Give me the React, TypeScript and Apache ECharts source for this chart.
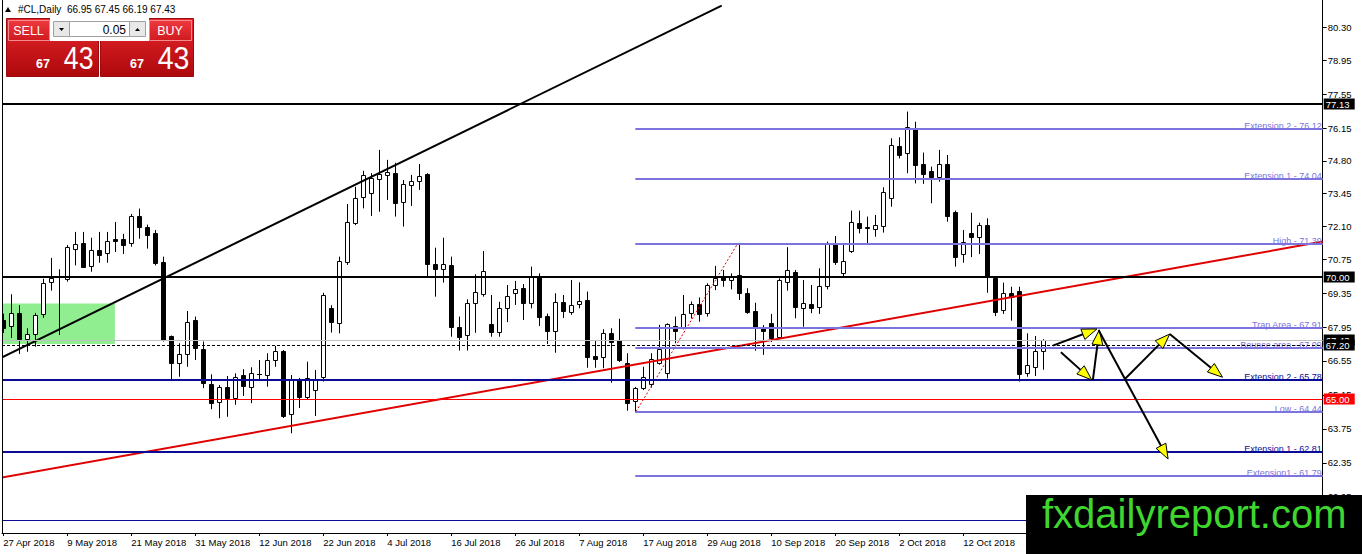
import React, { useEffect, useRef } from "react";
import * as echarts from "echarts";

// daily bars: open, high, low, close (first bar = 27 Apr 2018)
const ohlc: [number, number, number, number][] = [
  [68.25, 68.5, 67.7, 67.9], [68.0, 69.3, 67.5, 68.54], [68.52, 68.85, 66.84, 67.44], [67.44, 67.9, 66.93, 67.65],
  [67.65, 68.53, 67.14, 68.43], [68.47, 69.94, 68.33, 69.75], [69.81, 70.8, 69.45, 69.97], [70.05, 70.33, 67.62, 70.02],
  [69.94, 71.33, 69.82, 71.24], [71.18, 71.87, 70.49, 71.37], [71.43, 71.87, 70.38, 70.44], [70.47, 71.63, 70.23, 71.12],
  [71.12, 71.87, 70.6, 70.93], [70.99, 71.87, 70.6, 71.48], [71.57, 72.28, 71.04, 71.51], [71.57, 71.79, 70.96, 71.34],
  [71.43, 72.61, 71.26, 72.53], [72.53, 72.83, 71.59, 72.06], [72.06, 72.17, 71.18, 71.76], [71.84, 71.95, 70.49, 70.6],
  [70.63, 70.85, 67.35, 67.42], [67.58, 67.6, 65.77, 66.46], [66.46, 67.28, 65.9, 66.83], [66.83, 68.61, 66.31, 68.17],
  [68.24, 68.38, 66.59, 67.07], [67.03, 67.35, 65.43, 65.66], [65.59, 66.0, 64.56, 64.83], [64.87, 65.56, 64.19, 65.46],
  [65.46, 65.93, 64.25, 65.01], [65.01, 66.04, 64.74, 65.9], [65.96, 66.21, 65.11, 65.53], [65.49, 66.29, 64.81, 66.04],
  [66.0, 66.59, 65.77, 66.02], [65.96, 66.87, 65.49, 66.59], [66.59, 67.17, 66.31, 66.97], [66.96, 67.0, 64.2, 64.28],
  [64.35, 65.97, 63.57, 65.77], [65.82, 65.85, 64.61, 65.05], [65.08, 66.52, 64.97, 65.86], [65.35, 66.18, 64.28, 65.77],
  [65.88, 69.36, 65.7, 69.27], [68.72, 68.85, 67.72, 68.17], [68.13, 70.85, 67.69, 70.67], [70.64, 73.02, 70.51, 72.28],
  [72.23, 73.73, 72.15, 73.26], [73.3, 74.39, 72.84, 74.2], [73.46, 74.29, 72.53, 74.08], [74.04, 75.25, 72.7, 74.26],
  [74.2, 74.84, 73.19, 74.35], [74.29, 74.72, 72.5, 73.07], [73.12, 74.01, 72.09, 73.85], [73.82, 74.22, 72.94, 73.96],
  [73.98, 74.67, 73.6, 74.17], [74.25, 74.29, 70.02, 70.55], [70.55, 71.22, 69.2, 70.33], [70.35, 71.63, 69.78, 70.54],
  [70.49, 70.85, 67.55, 67.96], [67.96, 68.38, 66.98, 67.55], [67.61, 69.09, 66.98, 68.93], [68.95, 70.12, 67.71, 69.41],
  [69.31, 71.08, 69.2, 70.27], [68.08, 69.27, 67.55, 67.76], [67.76, 68.99, 67.55, 68.72], [68.72, 69.68, 68.15, 69.23],
  [69.34, 69.85, 68.86, 69.51], [69.55, 69.72, 68.24, 68.95], [68.95, 70.44, 68.72, 70.02], [70.05, 70.16, 67.99, 68.35],
  [68.41, 68.5, 67.25, 67.8], [67.8, 69.34, 66.89, 68.97], [68.98, 69.27, 68.32, 68.62], [68.58, 69.89, 68.45, 68.85],
  [68.89, 69.79, 68.72, 69.03], [69.06, 69.41, 66.27, 66.73], [66.76, 67.37, 66.27, 66.63], [66.7, 67.86, 66.25, 67.72],
  [67.69, 67.9, 65.65, 67.35], [67.42, 68.29, 66.51, 66.59], [66.48, 66.87, 64.5, 64.83], [64.91, 65.48, 64.44, 65.42],
  [65.42, 66.31, 65.35, 65.88], [65.6, 66.87, 65.45, 66.62], [66.48, 68.04, 66.4, 67.03], [66.07, 68.1, 65.83, 68.08],
  [68.0, 68.38, 67.28, 67.8], [67.94, 69.27, 67.85, 68.49], [68.54, 69.0, 68.3, 68.9], [68.9, 69.17, 68.17, 68.49],
  [68.52, 69.75, 68.38, 69.68], [69.68, 70.47, 69.47, 69.96], [70.02, 70.3, 69.61, 69.89], [69.89, 70.16, 69.5, 70.05],
  [70.09, 71.39, 69.06, 69.34], [69.37, 69.55, 68.49, 68.58], [68.61, 68.95, 66.97, 67.9], [67.9, 68.03, 66.8, 67.8],
  [68.13, 68.49, 67.33, 67.49], [67.55, 69.96, 67.45, 69.89], [69.82, 71.24, 69.45, 70.3], [70.23, 70.3, 68.31, 68.76],
  [68.72, 69.89, 67.96, 68.93], [68.89, 69.68, 68.52, 68.72], [68.76, 70.37, 68.49, 69.65], [69.64, 71.47, 69.5, 71.4],
  [71.37, 71.7, 70.51, 70.64], [70.19, 71.37, 70.0, 70.68], [71.1, 72.75, 71.0, 72.27], [72.23, 72.75, 71.81, 72.02],
  [72.04, 72.5, 71.4, 72.06], [71.98, 72.57, 71.67, 72.16], [72.13, 73.71, 71.84, 73.5], [73.26, 75.73, 72.91, 75.45],
  [75.41, 75.77, 74.9, 75.04], [75.11, 76.83, 74.29, 76.18], [76.1, 76.41, 73.87, 74.63], [74.66, 75.14, 73.85, 74.26],
  [74.38, 74.56, 73.05, 74.15], [74.15, 75.25, 73.94, 74.67], [74.67, 75.04, 72.29, 72.53], [72.7, 72.75, 70.44, 70.85],
  [70.95, 71.95, 70.6, 71.47], [71.84, 72.66, 70.83, 71.67], [71.65, 72.25, 70.96, 72.15], [72.15, 72.43, 69.36, 70.03],
  [69.96, 70.03, 68.4, 68.58], [68.65, 69.78, 68.49, 69.34], [69.37, 69.61, 68.21, 69.2], [69.45, 69.61, 65.7, 66.01],
  [66.07, 67.69, 65.9, 66.39], [66.32, 67.58, 65.93, 66.98], [66.95, 67.45, 66.19, 67.43],
];

const xLabelBars = [0, 8, 16, 24, 32, 40, 48, 56, 64, 72, 80, 88, 96, 104, 112, 120];
const xLabels = [
  "27 Apr 2018", "9 May 2018", "21 May 2018", "31 May 2018", "12 Jun 2018", "22 Jun 2018", "4 Jul 2018", "16 Jul 2018",
  "26 Jul 2018", "7 Aug 2018", "17 Aug 2018", "29 Aug 2018", "10 Sep 2018", "20 Sep 2018", "2 Oct 2018", "12 Oct 2018",
];
const yTicks = [80.3, 78.95, 77.55, 76.15, 74.8, 73.45, 72.1, 70.75, 69.35, 67.95, 66.55, 65.15, 63.75, 62.35, 60.95];

const fiboStartBar = 79;
const fiboLevels = [76.12, 74.04, 71.39, 67.91, 67.09, 64.44, 61.79];
const fiboNames = ["Extension 2", "Extension 1", "High", "Trap Area", "Bounce area", "Low", "Extension1"];
const targetLevels = [65.78, 62.81];
const targetNames = ["Extension 2", "Extension 1"];
const keyLevels = [77.13, 70.0];
const redLevel = 65.0;
const lowerLevel = 60.0;
const dashedLevel = 67.2;

const zoneBars = [-0.5, 13.95];
const zonePrices = [67.25, 68.92];
// trend lines: [bar1, price1, bar2, price2]
const trendLines: [number, number, number, number][] = [
  [-0.41, 66.66, 89.8, 81.2],
  [-0.41, 61.73, 164.93, 71.47],
  [79.1, 64.47, 91.8, 71.39],
];
// projected path arrows: [bar1, price1, bar2, price2]
const arrows: [number, number, number, number][] = [
  [131.2, 67.18, 136.7, 67.87],
  [132.2, 66.91, 136.05, 65.77],
  [136.2, 65.77, 137.0, 67.83],
  [136.9, 67.83, 145.6, 62.51],
  [140.2, 65.81, 145.8, 67.66],
  [145.8, 67.66, 152.4, 65.88],
];
const symbolName = "#CL,Daily";
const lotSize = "0.05";

const X_MIN = -0.1625;
const X_MAX = 164.925;
const Y_MIN = 59.459;
const Y_MAX = 81.429;

const FONT = '"Liberation Sans", Arial, sans-serif';
const NAVY = "#0b0b96";
const PURPLE = "#7c74dc";

const last = ohlc[ohlc.length - 1];
const bidPrice = last[3];

type Level = { start: number; value: number; kind: string; label?: string };
const levelItems: Level[] = [
  { start: X_MIN, value: lowerLevel, kind: "lower" },
  ...targetLevels.map((v, i) => ({ start: X_MIN, value: v, kind: "target", label: `${targetNames[i]} - ${v.toFixed(2)}` })),
  ...fiboLevels.map((v, i) => ({ start: fiboStartBar, value: v, kind: "fibo", label: `${fiboNames[i]} - ${v.toFixed(2)}` })),
  { start: X_MIN, value: redLevel, kind: "red" },
  ...keyLevels.map((v) => ({ start: X_MIN, value: v, kind: "key" })),
  { start: X_MIN, value: bidPrice, kind: "bid" },
  { start: X_MIN, value: dashedLevel, kind: "dashed" },
];
const levelStyle: Record<string, any> = {
  key: { stroke: "#000", width: 2, box: "#000" },
  red: { stroke: "#ff0000", width: 1, box: "#ff0000" },
  lower: { stroke: NAVY, width: 1 },
  target: { stroke: NAVY, width: 2, text: NAVY },
  fibo: { stroke: PURPLE, width: 2, text: PURPLE },
  bid: { stroke: "#c0c0c0", width: 1, box: "#000" },
  dashed: { stroke: "#000", width: 1, dash: [3, 2], box: "#000" },
};
const trendStyles = [
  { stroke: "#000", width: 2 },
  { stroke: "#e00000", width: 2 },
  { stroke: "#e00000", width: 1, dash: [2, 2] },
];

function txt(x: number, y: number, text: string, fill: string, font: string, align: string, valign: string, extra: any = {}) {
  return {
    type: "text",
    x,
    y,
    ...extra,
    style: { text, fill, font, align, verticalAlign: valign, textAlign: align, textVerticalAlign: valign },
  };
}

function panelGraphics(): any[] {
  const red = new echarts.graphic.LinearGradient(0, 0, 0, 1, [
    { offset: 0, color: "#e8272d" },
    { offset: 1, color: "#ad080c" },
  ]);
  const hdr = new echarts.graphic.LinearGradient(0, 0, 0, 1, [
    { offset: 0, color: "#ee3a3f" },
    { offset: 1, color: "#cf1a20" },
  ]);
  const big = Math.floor(bidPrice).toString();
  const small = Math.round((bidPrice - Math.floor(bidPrice)) * 100).toString().padStart(2, "0");
  const g: any[] = [
    { type: "polygon", shape: { points: [[5, 12], [11, 12], [8, 7]] }, style: { fill: "#000" } },
    txt(18, 9.5, `${symbolName}  ${last[0].toFixed(2)} ${last[1].toFixed(2)} ${last[2].toFixed(2)} ${last[3].toFixed(2)}`, "#000", `10px ${FONT}`, "left", "middle"),
    { type: "rect", shape: { x: 6.5, y: 18.5, width: 92, height: 58 }, style: { fill: red, stroke: "#9a0a0e", lineWidth: 1 } },
    { type: "rect", shape: { x: 100.5, y: 18.5, width: 93, height: 58 }, style: { fill: red, stroke: "#9a0a0e", lineWidth: 1 } },
    { type: "rect", shape: { x: 50, y: 18, width: 99, height: 23 }, style: { fill: "#fff" } },
    { type: "rect", shape: { x: 8.5, y: 20.5, width: 41, height: 20 }, style: { fill: hdr, stroke: "#f38a8d", lineWidth: 1 } },
    { type: "rect", shape: { x: 149.5, y: 20.5, width: 42, height: 20 }, style: { fill: hdr, stroke: "#f38a8d", lineWidth: 1 } },
    { type: "rect", shape: { x: 53.5, y: 21.5, width: 16, height: 15 }, style: { fill: "#e8e8e8", stroke: "#a0a0a0", lineWidth: 1 } },
    { type: "rect", shape: { x: 69.5, y: 21.5, width: 60, height: 15 }, style: { fill: "#fff", stroke: "#a0a0a0", lineWidth: 1 } },
    { type: "rect", shape: { x: 129.5, y: 21.5, width: 16, height: 15 }, style: { fill: "#e8e8e8", stroke: "#a0a0a0", lineWidth: 1 } },
    { type: "polygon", shape: { points: [[59, 28], [64, 28], [61.5, 31]] }, style: { fill: "#000" } },
    { type: "polygon", shape: { points: [[135, 31], [140, 31], [137.5, 28]] }, style: { fill: "#000" } },
    txt(126, 29.5, lotSize, "#000", `12px ${FONT}`, "right", "middle"),
    txt(28.5, 30.5, "SELL", "#fff", `12.5px ${FONT}`, "center", "middle"),
    txt(170, 30.5, "BUY", "#fff", `12.5px ${FONT}`, "center", "middle"),
    txt(36, 70, big, "#fff", `bold 12.5px ${FONT}`, "left", "bottom"),
    txt(56, 73.5, small, "#fff", `31px ${FONT}`, "left", "bottom", { scaleX: 0.86, originX: 56, originY: 73 }),
    txt(130, 70, big, "#fff", `bold 12.5px ${FONT}`, "left", "bottom"),
    txt(146, 73.5, small, "#fff", `31px ${FONT}`, "left", "bottom", { scaleX: 0.92, originX: 146, originY: 73 }),
    // chart left frame
    { type: "line", shape: { x1: 2.5, y1: 0, x2: 2.5, y2: 533 }, style: { stroke: "#000", lineWidth: 1 }, z: 50 },
    // watermark
    { type: "rect", shape: { x: 1026, y: 495, width: 336, height: 59 }, style: { fill: "#000" }, z: 100 },
    txt(1042, 534, "fxdailyreport.com", "#3fd630", `40px ${FONT}`, "left", "bottom", { z: 101 }),
  ];
  return g.map((e) => ({ z: 60, ...e }));
}

export default function App() {
  const ref = useRef<HTMLDivElement>(null);
  useEffect(() => {
    if (!ref.current) return;
    const chart = echarts.init(ref.current, undefined, { renderer: "svg" });
    const candleData = ohlc.map((d, i) => [i, d[0], d[1], d[2], d[3]]);

    const option: any = {
      animation: false,
      backgroundColor: "#fff",
      grid: { left: 2, top: 0, width: 1320.7, height: 533, containLabel: false },
      xAxis: {
        type: "value",
        min: X_MIN,
        max: X_MAX,
        position: "bottom",
        splitLine: { show: false },
        axisLine: { show: true, onZero: false, lineStyle: { color: "#000", width: 1 } },
        axisTick: { show: true, customValues: xLabelBars, length: 3, lineStyle: { color: "#000" } },
        axisLabel: {
          customValues: xLabelBars,
          formatter: (v: number) => xLabels[xLabelBars.indexOf(Math.round(v))] ?? "",
          align: "left",
          margin: 4,
          color: "#000",
          fontSize: 9.5,
          fontFamily: FONT,
        },
      },
      yAxis: {
        type: "value",
        min: Y_MIN,
        max: Y_MAX,
        position: "right",
        splitLine: { show: false },
        axisLine: { show: true, onZero: false, lineStyle: { color: "#000", width: 1 } },
        axisTick: { show: true, customValues: yTicks, length: 4, lineStyle: { color: "#000" } },
        axisLabel: {
          customValues: yTicks,
          formatter: (v: number) => v.toFixed(2),
          margin: 5,
          color: "#000",
          fontSize: 9.5,
          fontFamily: FONT,
        },
      },
      graphic: { elements: panelGraphics() },
      series: [
        {
          type: "custom",
          name: "zone",
          z: 1,
          clip: true,
          encode: { x: [0, 2], y: [1, 3] },
          data: [[zoneBars[0], zonePrices[0], zoneBars[1], zonePrices[1]]],
          renderItem: (params: any, api: any) => {
            const a = api.coord([api.value(0), api.value(1)]);
            const b = api.coord([api.value(2), api.value(3)]);
            const cs = params.coordSys;
            const x0 = Math.max(cs.x, Math.min(a[0], b[0]));
            return {
              type: "rect",
              shape: { x: x0, y: Math.min(a[1], b[1]), width: Math.max(a[0], b[0]) - x0, height: Math.abs(a[1] - b[1]) },
              style: { fill: "#90ee90" },
            };
          },
        },
        {
          type: "custom",
          name: "candles",
          z: 5,
          clip: true,
          encode: { x: 0, y: [1, 2, 3, 4] },
          data: candleData,
          renderItem: (params: any, api: any) => {
            const k = api.value(0);
            const o = api.value(1), h = api.value(2), l = api.value(3), c = api.value(4);
            const po = api.coord([k, o]);
            const pc = api.coord([k, c]);
            const ph = api.coord([k, h]);
            const pl = api.coord([k, l]);
            const xc = Math.round(po[0]) + 0.5;
            const top = Math.round(Math.min(po[1], pc[1])) + 0.5;
            const bot = Math.round(Math.max(po[1], pc[1])) + 0.5;
            const bull = c >= o;
            const children: any[] = [
              { type: "line", shape: { x1: xc, y1: ph[1], x2: xc, y2: pl[1] }, style: { stroke: "#000", lineWidth: 1 } },
            ];
            if (bot - top < 1) {
              children.push({ type: "line", shape: { x1: xc - 2.5, y1: top, x2: xc + 2.5, y2: top }, style: { stroke: "#000", lineWidth: 1 } });
            } else {
              children.push({
                type: "rect",
                shape: { x: xc - 2, y: top, width: 4, height: bot - top },
                style: { fill: bull ? "#fff" : "#000", stroke: "#000", lineWidth: 1 },
              });
            }
            return { type: "group", children };
          },
        },
        {
          type: "custom",
          name: "trendlines",
          z: 6,
          clip: true,
          encode: { x: [0, 2], y: [1, 3] },
          data: trendLines,
          renderItem: (params: any, api: any) => {
            const s = trendStyles[params.dataIndex];
            const a = api.coord([api.value(0), api.value(1)]);
            const b = api.coord([api.value(2), api.value(3)]);
            return {
              type: "line",
              shape: { x1: a[0], y1: a[1], x2: b[0], y2: b[1] },
              style: { stroke: s.stroke, lineWidth: s.width, lineDash: s.dash || null },
            };
          },
        },
        {
          type: "custom",
          name: "levels",
          z: 7,
          clip: false,
          encode: { x: 0, y: 1 },
          data: levelItems.map((it) => [it.start, it.value]),
          renderItem: (params: any, api: any) => {
            const it = levelItems[params.dataIndex];
            const s = levelStyle[it.kind];
            const cs = params.coordSys;
            const p = api.coord([api.value(0), api.value(1)]);
            const y = s.width % 2 === 1 ? Math.round(p[1]) + 0.5 : Math.round(p[1]);
            const x1 = Math.max(cs.x, p[0]);
            const x2 = cs.x + cs.width;
            const children: any[] = [
              { type: "line", shape: { x1, y1: y, x2, y2: y }, style: { stroke: s.stroke, lineWidth: s.width, lineDash: s.dash || null } },
            ];
            if (it.label) {
              children.push(txt(x2 - 1, y + 1, it.label, s.text, `9px ${FONT}`, "right", "bottom"));
            }
            if (s.box) {
              children.push({ type: "rect", shape: { x: x2 + 1, y: Math.round(p[1]) - 5.5, width: 31, height: 11 }, style: { fill: s.box } });
              children.push(txt(x2 + 3, Math.round(p[1]) + 0.5, it.value.toFixed(2), "#fff", `9.5px ${FONT}`, "left", "middle"));
            }
            return { type: "group", children };
          },
        },
        {
          type: "custom",
          name: "arrows",
          z: 8,
          clip: false,
          encode: { x: [0, 2], y: [1, 3] },
          data: arrows,
          renderItem: (params: any, api: any) => {
            const a = api.coord([api.value(0), api.value(1)]);
            const b = api.coord([api.value(2), api.value(3)]);
            const dx = b[0] - a[0], dy = b[1] - a[1];
            const len = Math.sqrt(dx * dx + dy * dy) || 1;
            const ux = dx / len, uy = dy / len;
            const L = 15, W = 5.5;
            const bx = b[0] - ux * L, by = b[1] - uy * L;
            const px = -uy, py = ux;
            return {
              type: "group",
              children: [
                { type: "line", shape: { x1: a[0], y1: a[1], x2: bx, y2: by }, style: { stroke: "#000", lineWidth: 2 } },
                {
                  type: "polygon",
                  shape: { points: [[b[0], b[1]], [bx + px * W, by + py * W], [bx - px * W, by - py * W]] },
                  style: { fill: "#ffff00", stroke: "#000", lineWidth: 1 },
                },
              ],
            };
          },
        },
      ],
    };
    chart.setOption(option);
    return () => chart.dispose();
  }, []);
  return (
    <div
      ref={ref}
      style={{ position: "fixed", left: 0, top: 0, width: 1362, height: 554, background: "#fff" }}
    />
  );
}
